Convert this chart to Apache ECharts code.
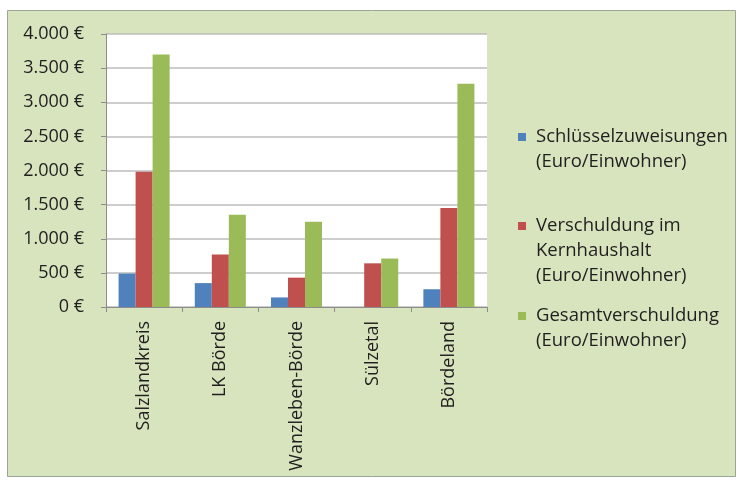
<!DOCTYPE html>
<html>
<head>
<meta charset="utf-8">
<script src="https://cdn.jsdelivr.net/npm/echarts@6/dist/echarts.min.js"></script>
<style>
  html, body { margin: 0; padding: 0; background: #ffffff; }
  #chart { width: 743px; height: 486px; }
</style>
</head>
<body>
<div id="chart"></div>
<script>
// Gemeinden / Kreise
const categories = ['Salzlandkreis', 'LK Börde', 'Wanzleben-Börde', 'Sülzetal', 'Bördeland'];

// Werte in Euro je Einwohner
const schluesselzuweisungen = [490, 350, 140, 0, 260];
const verschuldungKern = [1980, 770, 430, 640, 1450];
const gesamtverschuldung = [3700, 1350, 1250, 710, 3270];

const seriesNames = [
  'Schlüsselzuweisungen\n(Euro/Einwohner)',
  'Verschuldung im\nKernhaushalt\n(Euro/Einwohner)',
  'Gesamtverschuldung\n(Euro/Einwohner)'
];
const seriesValues = [schluesselzuweisungen, verschuldungKern, gesamtverschuldung];
const colors = ['#4F81BD', '#C0504D', '#9BBB59'];

const FONT = 'Open Sans';
const TEXT = '#1f1f1f';
const AXIS_FONT = 18;
const LEGEND_FONT = 18.5;
const LINE_H = 25;

function fmtEuro(v) {
  return String(v).replace(/\B(?=(\d{3})+(?!\d))/g, '.') + ' €';
}

// one legend block per series so every entry can sit at its own height;
// leading blank lines put the first text line level with the square,
// so each block is centred on the square
const legendSquareY = [137, 226, 316];
const legends = seriesNames.map((name, i) => {
  const lines = name.split('\n').length;
  const blockH = (2 * lines - 1) * LINE_H;
  return {
    orient: 'vertical',
    left: 518,
    top: legendSquareY[i] - blockH / 2,
    data: [name],
    // square plus an empty gap on its right before the text
    icon: 'path://M0,0H8V8H0Z M13,8H13.001',
    itemWidth: 13,
    itemHeight: 8,
    itemGap: 0,
    padding: 0,
    selectedMode: false,
    formatter: n => '\n'.repeat(lines - 1) + n,
    textStyle: {
      fontFamily: FONT,
      fontSize: LEGEND_FONT,
      color: TEXT,
      lineHeight: LINE_H
    }
  };
});

const chart = echarts.init(document.getElementById('chart'), null, { renderer: 'canvas' });
chart.setOption({
  backgroundColor: '#ffffff',
  animation: false,
  textStyle: { fontFamily: FONT },
  graphic: [{
    type: 'rect',
    z: -10,
    silent: true,
    shape: { x: 7.5, y: 10.5, width: 728, height: 466 },
    style: { fill: '#D8E4BD', stroke: '#9AA596', lineWidth: 1 }
  }],
  legend: legends,
  grid: {
    left: 106,
    right: 256,
    top: 34,
    bottom: 179,
    containLabel: false,
    show: true,
    backgroundColor: '#ffffff',
    borderWidth: 0
  },
  xAxis: {
    type: 'category',
    data: categories,
    boundaryGap: true,
    axisLine: { show: true, lineStyle: { color: '#8c8c8c', width: 1 } },
    axisTick: { show: true, length: 5, alignWithLabel: false, lineStyle: { color: '#8c8c8c' } },
    axisLabel: {
      rotate: 90,
      margin: 14,
      fontFamily: FONT,
      fontSize: AXIS_FONT,
      color: TEXT,
      interval: 0
    }
  },
  yAxis: {
    type: 'value',
    min: 0,
    max: 4000,
    interval: 500,
    axisLine: { show: true, lineStyle: { color: '#8c8c8c', width: 1 } },
    axisTick: { show: true, length: 5, lineStyle: { color: '#8c8c8c' } },
    splitLine: { show: true, lineStyle: { color: '#bdbdbd', width: 1.5 } },
    axisLabel: {
      margin: 22,
      fontFamily: FONT,
      fontSize: AXIS_FONT,
      color: TEXT,
      formatter: fmtEuro
    }
  },
  series: seriesNames.map((name, i) => ({
    name: name,
    type: 'bar',
    data: seriesValues[i],
    barGap: '0%',
    barCategoryGap: '33%',
    itemStyle: { color: colors[i] }
  }))
});
</script>
</body>
</html>
